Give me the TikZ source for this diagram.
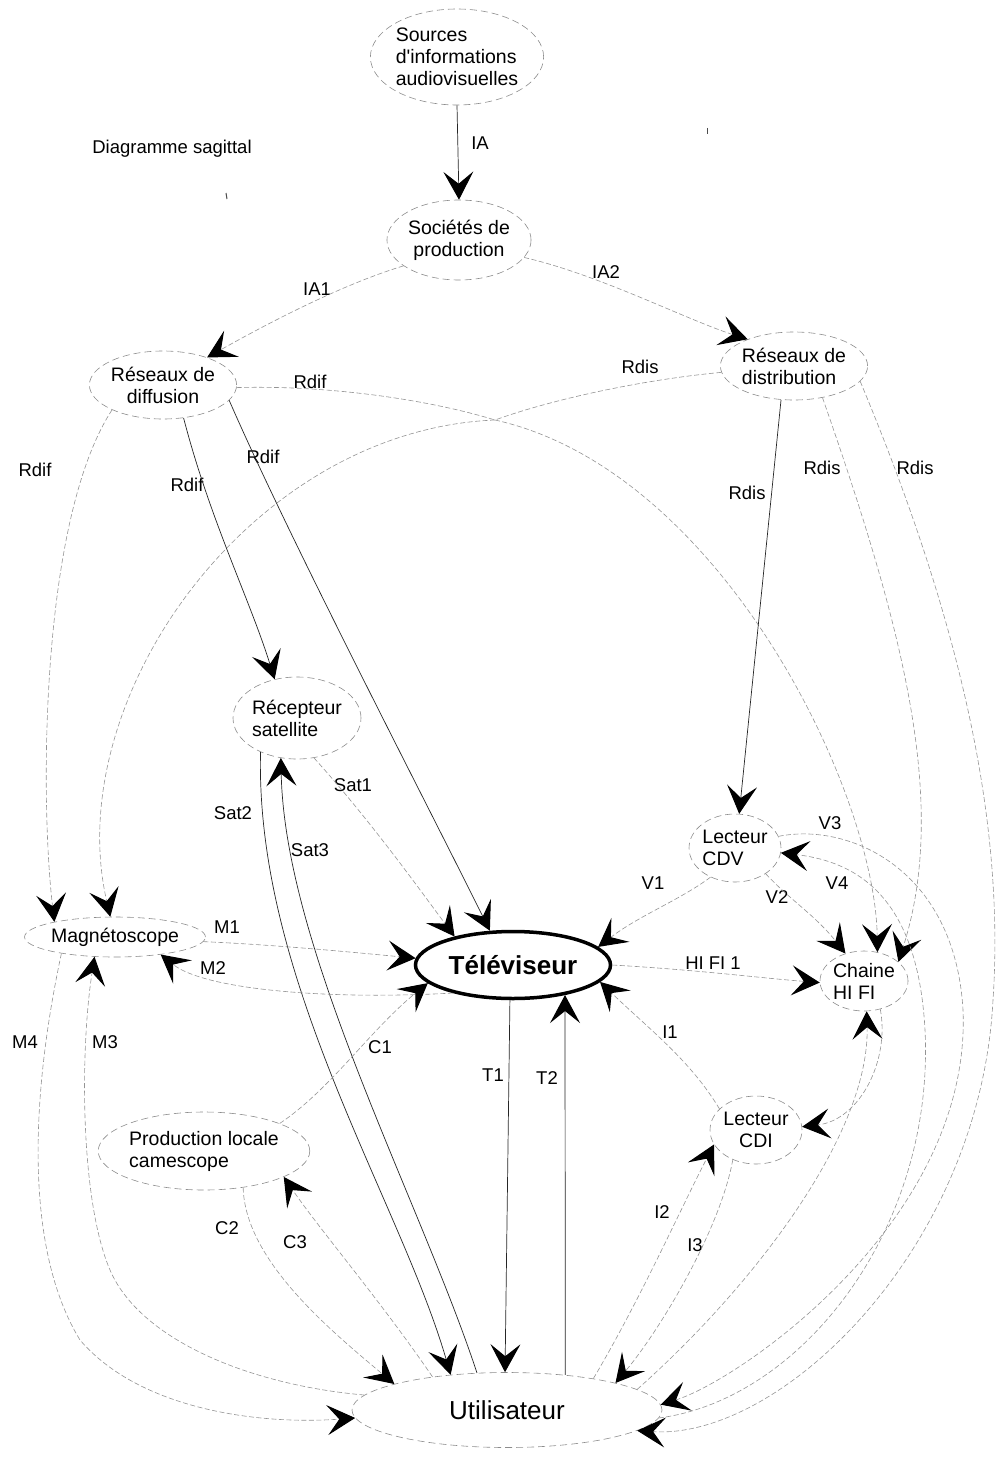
\documentclass[tikz,border=0pt]{standalone}
\usepackage{fontspec}
\setmainfont{Liberation Sans}
\usetikzlibrary{arrows.meta,shapes.geometric}
\tikzset{
  box/.style={ellipse, draw=black!45, line width=0.6pt, dash pattern=on 7pt off 4pt, inner sep=0pt, font=\fontsize{19.5}{22}\selectfont},
  lab/.style={inner sep=0pt, font=\fontsize{18.5}{20}\selectfont},
  tipped/.style={-{Stealth[length=28pt,width=30pt,inset=12pt,color=black,line width=1pt]}},
  sl/.style={draw=black!85, line width=0.7pt},
  fl/.style={draw=black!42, line width=0.6pt, dash pattern=on 5pt off 2.5pt},
}
\begin{document}
\begin{tikzpicture}[x=1pt,y=-1pt]
\useasboundingbox (0,0) rectangle (996,1461);
% nodes
\node[box, align=left, minimum width=150pt, minimum height=96pt] (src) at (457,57) {Sources\\d\textquotesingle informations\\audiovisuelles};
\node[box, align=center, minimum width=132pt, minimum height=80pt] (soc) at (459,240) {Soci\'et\'es de\\production};
\node[box, align=center, minimum width=132pt, minimum height=68pt] (dif) at (163,385) {R\'eseaux de\\diffusion};
\node[box, align=left, minimum width=136pt, minimum height=68pt] (dis) at (794,366) {R\'eseaux de\\distribution};
\node[box, align=left, minimum width=128pt, minimum height=82pt] (sat) at (297,718) {R\'ecepteur\\satellite};
\node[box, align=left, minimum width=88pt, minimum height=68pt] (cdv) at (735,848) {Lecteur\\CDV};
\node[box, minimum width=170pt, minimum height=40pt] (mag) at (115,937) {Magn\'etoscope};
\node[ellipse, draw=black, line width=3.5pt, minimum width=195pt, minimum height=67pt, inner sep=0pt, font=\fontsize{26}{30}\selectfont\bfseries] (tv) at (513,965) {T\'el\'eviseur};
\node[box, align=left, minimum width=88pt, minimum height=60pt] (hifi) at (864,981) {Chaine\\HI FI};
\node[box, align=left, minimum width=182pt, minimum height=78pt] (prod) at (204,1151) {Production locale\\camescope};
\node[box, align=center, minimum width=88pt, minimum height=68pt] (cdi) at (756,1130) {Lecteur\\CDI};
\node[box, minimum width=310pt, minimum height=75pt, font=\fontsize{26}{30}\selectfont] (usr) at (507,1410) {Utilisateur};
\coordinate (vpt) at (495,420);
% labels
\node[lab] (ttl) at (172,149) {Diagramme sagittal};
\node[lab] (lIA) at (480,143) {IA};
\node[lab] (lIA1) at (317,289) {IA1};
\node[lab] (lIA2) at (606,272) {IA2};
\node[lab] (lR1) at (310,382) {Rdif};
\node[lab] (lR2) at (640,367) {Rdis};
\node[lab] (lR3) at (35,470) {Rdif};
\node[lab] (lR4) at (187,485) {Rdif};
\node[lab] (lR5) at (263,457) {Rdif};
\node[lab] (lR6) at (747,493) {Rdis};
\node[lab] (lR7) at (822,468) {Rdis};
\node[lab] (lR8) at (915,468) {Rdis};
\node[lab] (lS1) at (353,785) {Sat1};
\node[lab] (lS2) at (233,813) {Sat2};
\node[lab] (lS3) at (310,850) {Sat3};
\node[lab] (lV3) at (830,823) {V3};
\node[lab] (lV1) at (653,883) {V1};
\node[lab] (lV4) at (837,883) {V4};
\node[lab] (lV2) at (777,897) {V2};
\node[lab] (lM1) at (227,927) {M1};
\node[lab] (lM2) at (213,968) {M2};
\node[lab] (lH) at (713,963) {HI FI 1};
\node[lab] (lI1) at (670,1032) {I1};
\node[lab] (lM4) at (25,1042) {M4};
\node[lab] (lM3) at (105,1042) {M3};
\node[lab] (lC1) at (380,1047) {C1};
\node[lab] (lT1) at (493,1075) {T1};
\node[lab] (lT2) at (547,1078) {T2};
\node[lab] (lC2) at (227,1228) {C2};
\node[lab] (lC3) at (295,1242) {C3};
\node[lab] (lI2) at (662,1212) {I2};
\node[lab] (lI3) at (695,1245) {I3};
% connectors
\draw[sl,tipped] (src.south) -- (soc.north);
\draw[fl,tipped] (soc.205) .. controls (340,285) and (263,326) .. (dif.32);
\draw[fl,tipped] (soc.-15) .. controls (600,275) and (687,320) .. (dis.150);
\draw[fl] (dif.-2) .. controls (330,385) and (430,400) .. (vpt);
\draw[fl] (dis.185) .. controls (640,380) and (550,400) .. (vpt);
\draw[fl,tipped] (vpt) .. controls (250,430) and (60,700) .. (mag.103);
\draw[fl,tipped] (vpt) .. controls (720,470) and (875,790) .. (hifi.65);
\draw[fl,tipped] (dif.206) .. controls (40,520) and (40,800) .. (mag.166);
\draw[sl,tipped] (dif.-58) .. controls (210,520) and (250,600) .. (sat.120);
\draw[sl,tipped] (dif.-13) .. controls (290,540) and (420,790) .. (tv.124);
\draw[sl,tipped] (dis.249) -- (cdv.83);
\draw[fl,tipped] (dis.-48) .. controls (900,620) and (950,800) .. (hifi.29);
\draw[fl,tipped] (dis.-13) .. controls (960,620) and (1005,820) .. (993,1000) .. controls (980,1250) and (780,1440) .. (usr.-9);
\draw[fl,tipped] (sat.-67) .. controls (370,820) and (420,890) .. (tv.154);
\draw[sl,tipped] (sat.223) .. controls (255,980) and (400,1200) .. (usr.148.5);
\draw[sl,tipped] (usr.129) .. controls (420,1200) and (285,950) .. (sat.248);
\draw[fl,tipped] (mag.-3) .. controls (280,945) and (360,953) .. (tv.176);
\draw[fl,tipped] (tv.205) .. controls (330,1000) and (205,990) .. (mag.-21);
\draw[fl,tipped] (usr.174.5) .. controls (250,1385) and (140,1340) .. (110,1270) .. controls (80,1200) and (80,1050) .. (mag.224);
\draw[fl,tipped] (mag.197) .. controls (30,1100) and (25,1250) .. (80,1340) .. controls (140,1410) and (260,1425) .. (usr.183);
\draw[fl,tipped] (prod.20) .. controls (330,1090) and (370,1030) .. (tv.192.5);
\draw[fl,tipped] (prod.-43) .. controls (245,1260) and (330,1330) .. (usr.167);
\draw[fl,tipped] (usr.156) .. controls (380,1300) and (320,1230) .. (prod.-18);
\draw[sl,tipped] (tv.-95) -- (usr.93);
\draw[sl,tipped] (usr.31) -- (tv.-30);
\draw[fl,tipped] (tv.0) .. controls (700,970) and (760,978) .. (hifi.182.5);
\draw[fl,tipped] (cdv.230) .. controls (680,900) and (640,915) .. (tv.12);
\draw[fl,tipped] (cdv.-40) .. controls (790,900) and (815,915) .. (hifi.124);
\draw[fl,tipped] (cdv.15) .. controls (850,822) and (955,870) .. (963,1010) .. controls (972,1220) and (740,1380) .. (usr.2.7);
\draw[fl,tipped] (usr.-3) .. controls (800,1400) and (935,1230) .. (925,1030) .. controls (918,900) and (860,862) .. (cdv.-6.5);
\draw[fl,tipped] (cdi.150) .. controls (690,1060) and (650,1030) .. (tv.-11.4);
\draw[fl,tipped] (usr.20) .. controls (640,1300) and (680,1210) .. (cdi.199);
\draw[fl,tipped] (cdi.232) .. controls (720,1230) and (660,1330) .. (usr.14.5);
\draw[fl,tipped] (hifi.-60) .. controls (890,1060) and (860,1120) .. (cdi.4);
\draw[fl,tipped] (usr.9) .. controls (760,1280) and (870,1130) .. (hifi.-85);
% stray marks of the scan
\draw[black!70, line width=1pt] (226,193) -- (227,199);
\draw[black!70, line width=1pt] (707,128) -- (707,134);
\end{tikzpicture}
\end{document}
